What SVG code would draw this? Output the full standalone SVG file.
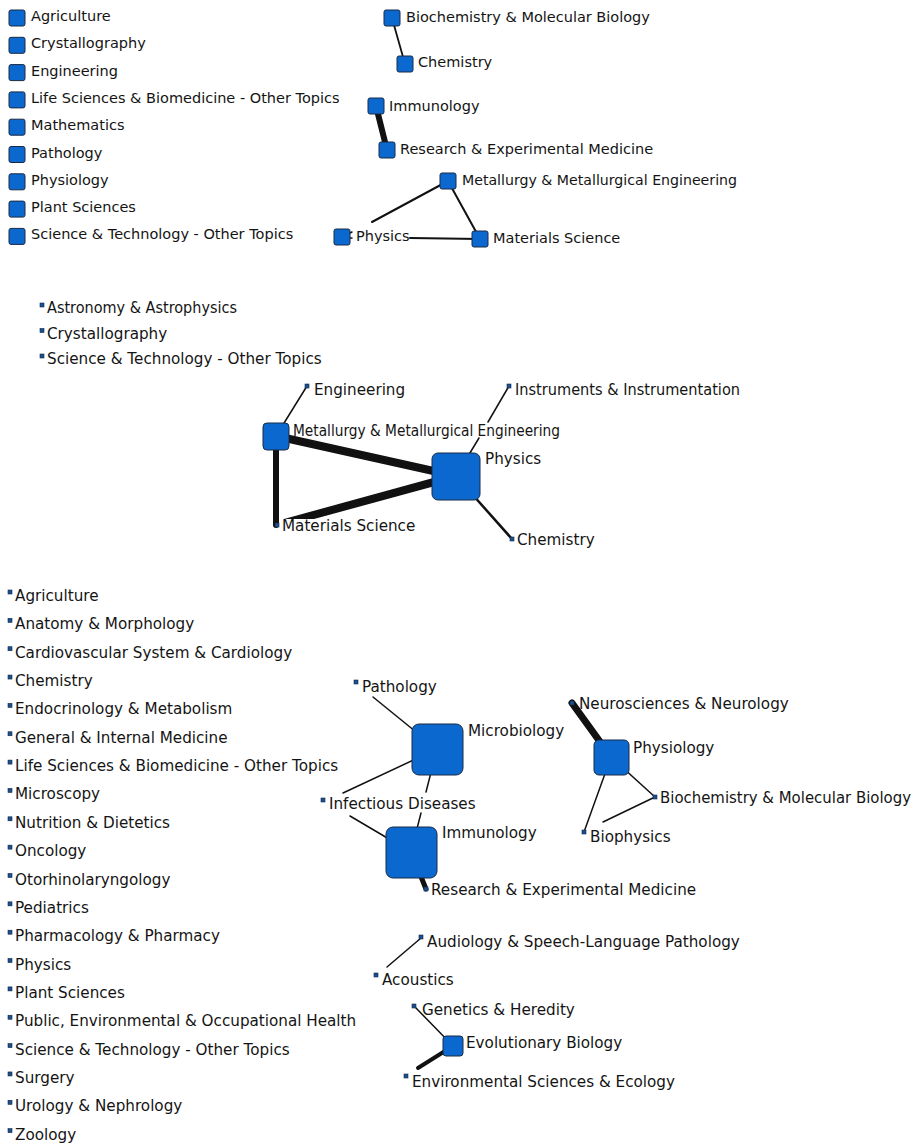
<svg xmlns="http://www.w3.org/2000/svg" width="917" height="1145" viewBox="0 0 917 1145">
<style>
text{font-family:"DejaVu Sans","Liberation Sans",sans-serif;fill:#141414}
.t{font-size:14.5px}
.m{font-size:15.2px}
.n{fill:#0b68cf;stroke:#1b2a44;stroke-width:1}
.d{fill:#1f4f8a;stroke:#0d2a50;stroke-width:0.6}
.e{stroke:#111;fill:none;stroke-linecap:round}
</style>
<rect width="917" height="1145" fill="#fff"/>
<g id="connectors">
<line class="e" x1="392" y1="18" x2="405" y2="64" stroke-width="1.8"/>
<line class="e" x1="376" y1="106" x2="387" y2="150" stroke-width="6"/>
<line class="e" x1="448" y1="181" x2="372" y2="222" stroke-width="2"/>
<line class="e" x1="448" y1="181" x2="480" y2="239" stroke-width="2"/>
<line class="e" x1="410" y1="238" x2="480" y2="239" stroke-width="2"/>
<line class="e" x1="350" y1="233" x2="352" y2="232" stroke-width="1.5"/>
<line class="e" x1="350" y1="238" x2="352" y2="238" stroke-width="1.5"/>
<line class="e" x1="307" y1="386" x2="276" y2="436" stroke-width="1.5"/>
<line class="e" x1="509" y1="386" x2="488" y2="422" stroke-width="1.5"/>
<line class="e" x1="479" y1="438" x2="456" y2="476" stroke-width="1.5"/>
<line class="e" x1="276" y1="436" x2="456" y2="476" stroke-width="8"/>
<polygon points="455,472 284,519 314,519 457,480" fill="#111"/>
<line class="e" x1="276" y1="436" x2="276" y2="525" stroke-width="6"/>
<line class="e" x1="456" y1="476" x2="512" y2="539" stroke-width="2.5"/>
<line class="e" x1="373" y1="697" x2="437" y2="749" stroke-width="1.5"/>
<line class="e" x1="437" y1="749" x2="343" y2="793" stroke-width="1.5"/>
<line class="e" x1="437" y1="749" x2="426" y2="792" stroke-width="1.5"/>
<line class="e" x1="421" y1="813" x2="411" y2="852" stroke-width="1.5"/>
<line class="e" x1="350" y1="816" x2="411" y2="852" stroke-width="1.5"/>
<line class="e" x1="411" y1="852" x2="426" y2="889" stroke-width="5"/>
<line class="e" x1="572" y1="703" x2="611" y2="757" stroke-width="7"/>
<line class="e" x1="611" y1="757" x2="655" y2="797" stroke-width="1.5"/>
<line class="e" x1="611" y1="757" x2="584" y2="832" stroke-width="1.5"/>
<line class="e" x1="655" y1="797" x2="603" y2="822" stroke-width="1.5"/>
<line class="e" x1="421" y1="938" x2="387" y2="967" stroke-width="1.5"/>
<line class="e" x1="416" y1="1008" x2="453" y2="1046" stroke-width="1.5"/>
<line class="e" x1="453" y1="1046" x2="418" y2="1068" stroke-width="4"/>
</g>
<g id="top-isolates">
<g id="t-agri"><rect class="n" x="9" y="10" width="16" height="16" rx="2"/><text class="t" x="31" y="21">Agriculture</text></g>
<g id="t-crys"><rect class="n" x="9" y="37.3" width="16" height="16" rx="2"/><text class="t" x="31" y="48.3">Crystallography</text></g>
<g id="t-eng"><rect class="n" x="9" y="64.6" width="16" height="16" rx="2"/><text class="t" x="31" y="75.6">Engineering</text></g>
<g id="t-life"><rect class="n" x="9" y="91.9" width="16" height="16" rx="2"/><text class="t" x="31" y="102.9">Life Sciences &amp; Biomedicine - Other Topics</text></g>
<g id="t-math"><rect class="n" x="9" y="119.2" width="16" height="16" rx="2"/><text class="t" x="31" y="130.2">Mathematics</text></g>
<g id="t-path"><rect class="n" x="9" y="146.5" width="16" height="16" rx="2"/><text class="t" x="31" y="157.5">Pathology</text></g>
<g id="t-phys"><rect class="n" x="9" y="173.8" width="16" height="16" rx="2"/><text class="t" x="31" y="184.8">Physiology</text></g>
<g id="t-plant"><rect class="n" x="9" y="201.1" width="16" height="16" rx="2"/><text class="t" x="31" y="212.1">Plant Sciences</text></g>
<g id="t-sci"><rect class="n" x="9" y="228.4" width="16" height="16" rx="2"/><text class="t" x="31" y="239.4">Science &amp; Technology - Other Topics</text></g>
</g>
<g id="t-biochem"><rect class="n" x="384" y="10" width="16" height="16" rx="2"/><text class="t" x="406" y="22">Biochemistry &amp; Molecular Biology</text></g>
<g id="t-chem"><rect class="n" x="397" y="56" width="16" height="16" rx="2"/><text class="t" x="418" y="67">Chemistry</text></g>
<g id="t-immuno"><rect class="n" x="368" y="98" width="16" height="16" rx="2"/><text class="t" x="389" y="111">Immunology</text></g>
<g id="t-research"><rect class="n" x="379" y="142" width="16" height="16" rx="2"/><text class="t" x="400" y="154">Research &amp; Experimental Medicine</text></g>
<g id="t-metal"><rect class="n" x="440" y="173" width="16" height="16" rx="2"/><text class="t" x="462" y="185" textLength="275" lengthAdjust="spacingAndGlyphs">Metallurgy &amp; Metallurgical Engineering</text></g>
<g id="t-physics"><rect class="n" x="334" y="229" width="16" height="16" rx="2"/><text class="t" x="356" y="241">Physics</text></g>
<g id="t-mat"><rect class="n" x="472" y="231" width="16" height="16" rx="2"/><text class="t" x="493" y="243">Materials Science</text></g>
<g id="mid-isolates">
<g id="m-astro"><rect class="d" x="40" y="303" width="4" height="4"/><text class="m" x="47" y="313" textLength="190" lengthAdjust="spacingAndGlyphs">Astronomy &amp; Astrophysics</text></g>
<g id="m-crys"><rect class="d" x="40" y="328.5" width="4" height="4"/><text class="m" x="47" y="338.5">Crystallography</text></g>
<g id="m-sci"><rect class="d" x="40" y="354" width="4" height="4"/><text class="m" x="47" y="364">Science &amp; Technology - Other Topics</text></g>
</g>
<g id="m-eng"><rect class="d" x="305" y="384" width="4" height="4"/><text class="m" x="314" y="395">Engineering</text></g>
<g id="m-instr"><rect class="d" x="507" y="384" width="4" height="4"/><text class="m" x="515" y="395" textLength="225" lengthAdjust="spacingAndGlyphs">Instruments &amp; Instrumentation</text></g>
<g id="m-metal"><rect class="n" x="263" y="423" width="26" height="27" rx="4"/><text class="m" x="293" y="436" textLength="267" lengthAdjust="spacingAndGlyphs">Metallurgy &amp; Metallurgical Engineering</text></g>
<g id="m-physics"><rect class="n" x="432" y="453" width="48" height="47" rx="6"/><text class="m" x="485" y="464">Physics</text></g>
<g id="m-mat"><rect class="d" x="275" y="523" width="4" height="4"/><text class="m" x="282" y="531">Materials Science</text></g>
<g id="m-chem"><rect class="d" x="510" y="537" width="4" height="4"/><text class="m" x="517" y="545">Chemistry</text></g>
<g id="bottom-isolates">
<g id="b0"><rect class="d" x="8" y="590" width="4" height="4"/><text class="m" x="15" y="601">Agriculture</text></g>
<g id="b1"><rect class="d" x="8" y="618.35" width="4" height="4"/><text class="m" x="15" y="629.35">Anatomy &amp; Morphology</text></g>
<g id="b2"><rect class="d" x="8" y="646.7" width="4" height="4"/><text class="m" x="15" y="657.7">Cardiovascular System &amp; Cardiology</text></g>
<g id="b3"><rect class="d" x="8" y="675.05" width="4" height="4"/><text class="m" x="15" y="686.05">Chemistry</text></g>
<g id="b4"><rect class="d" x="8" y="703.4" width="4" height="4"/><text class="m" x="15" y="714.4">Endocrinology &amp; Metabolism</text></g>
<g id="b5"><rect class="d" x="8" y="731.75" width="4" height="4"/><text class="m" x="15" y="742.75">General &amp; Internal Medicine</text></g>
<g id="b6"><rect class="d" x="8" y="760.1" width="4" height="4"/><text class="m" x="15" y="771.1">Life Sciences &amp; Biomedicine - Other Topics</text></g>
<g id="b7"><rect class="d" x="8" y="788.45" width="4" height="4"/><text class="m" x="15" y="799.45">Microscopy</text></g>
<g id="b8"><rect class="d" x="8" y="816.8" width="4" height="4"/><text class="m" x="15" y="827.8">Nutrition &amp; Dietetics</text></g>
<g id="b9"><rect class="d" x="8" y="845.15" width="4" height="4"/><text class="m" x="15" y="856.15">Oncology</text></g>
<g id="b10"><rect class="d" x="8" y="873.5" width="4" height="4"/><text class="m" x="15" y="884.5">Otorhinolaryngology</text></g>
<g id="b11"><rect class="d" x="8" y="901.85" width="4" height="4"/><text class="m" x="15" y="912.85">Pediatrics</text></g>
<g id="b12"><rect class="d" x="8" y="930.2" width="4" height="4"/><text class="m" x="15" y="941.2">Pharmacology &amp; Pharmacy</text></g>
<g id="b13"><rect class="d" x="8" y="958.55" width="4" height="4"/><text class="m" x="15" y="969.55">Physics</text></g>
<g id="b14"><rect class="d" x="8" y="986.9" width="4" height="4"/><text class="m" x="15" y="997.9">Plant Sciences</text></g>
<g id="b15"><rect class="d" x="8" y="1015.25" width="4" height="4"/><text class="m" x="15" y="1026.25">Public, Environmental &amp; Occupational Health</text></g>
<g id="b16"><rect class="d" x="8" y="1043.6" width="4" height="4"/><text class="m" x="15" y="1054.6">Science &amp; Technology - Other Topics</text></g>
<g id="b17"><rect class="d" x="8" y="1071.95" width="4" height="4"/><text class="m" x="15" y="1082.95">Surgery</text></g>
<g id="b18"><rect class="d" x="8" y="1100.3" width="4" height="4"/><text class="m" x="15" y="1111.3">Urology &amp; Nephrology</text></g>
<g id="b19"><rect class="d" x="8" y="1128.65" width="4" height="4"/><text class="m" x="15" y="1139.65">Zoology</text></g>
</g>
<g id="b-path"><rect class="d" x="354" y="680" width="4" height="4"/><text class="m" x="362" y="692">Pathology</text></g>
<g id="b-micro"><rect class="n" x="412" y="724" width="51" height="51" rx="7"/><text class="m" x="468" y="736">Microbiology</text></g>
<g id="b-infect"><rect class="d" x="321" y="798" width="4" height="4"/><text class="m" x="329" y="809">Infectious Diseases</text></g>
<g id="b-immuno"><rect class="n" x="386" y="827" width="51" height="51" rx="7"/><text class="m" x="442" y="838">Immunology</text></g>
<g id="b-research"><rect class="d" x="424" y="887" width="4" height="4"/><text class="m" x="431" y="895">Research &amp; Experimental Medicine</text></g>
<g id="b-neuro"><rect class="d" x="570" y="701" width="4" height="4"/><text class="m" x="579" y="709">Neurosciences &amp; Neurology</text></g>
<g id="b-physio"><rect class="n" x="594" y="740" width="35" height="35" rx="5"/><text class="m" x="633" y="753">Physiology</text></g>
<g id="b-biochem"><rect class="d" x="653" y="795" width="4" height="4"/><text class="m" x="660" y="803" textLength="251" lengthAdjust="spacingAndGlyphs">Biochemistry &amp; Molecular Biology</text></g>
<g id="b-biophys"><rect class="d" x="582" y="830" width="4" height="4"/><text class="m" x="590" y="842">Biophysics</text></g>
<g id="b-audio"><rect class="d" x="419" y="935" width="4" height="4"/><text class="m" x="427" y="947">Audiology &amp; Speech-Language Pathology</text></g>
<g id="b-acoust"><rect class="d" x="374" y="973" width="4" height="4"/><text class="m" x="382" y="985">Acoustics</text></g>
<g id="b-genet"><rect class="d" x="412" y="1004" width="4" height="4"/><text class="m" x="422" y="1015">Genetics &amp; Heredity</text></g>
<g id="b-evo"><rect class="n" x="443" y="1036" width="20" height="20" rx="3"/><text class="m" x="466" y="1048">Evolutionary Biology</text></g>
<g id="b-env"><rect class="d" x="404" y="1074" width="4" height="4"/><text class="m" x="412" y="1087">Environmental Sciences &amp; Ecology</text></g>
</svg>
